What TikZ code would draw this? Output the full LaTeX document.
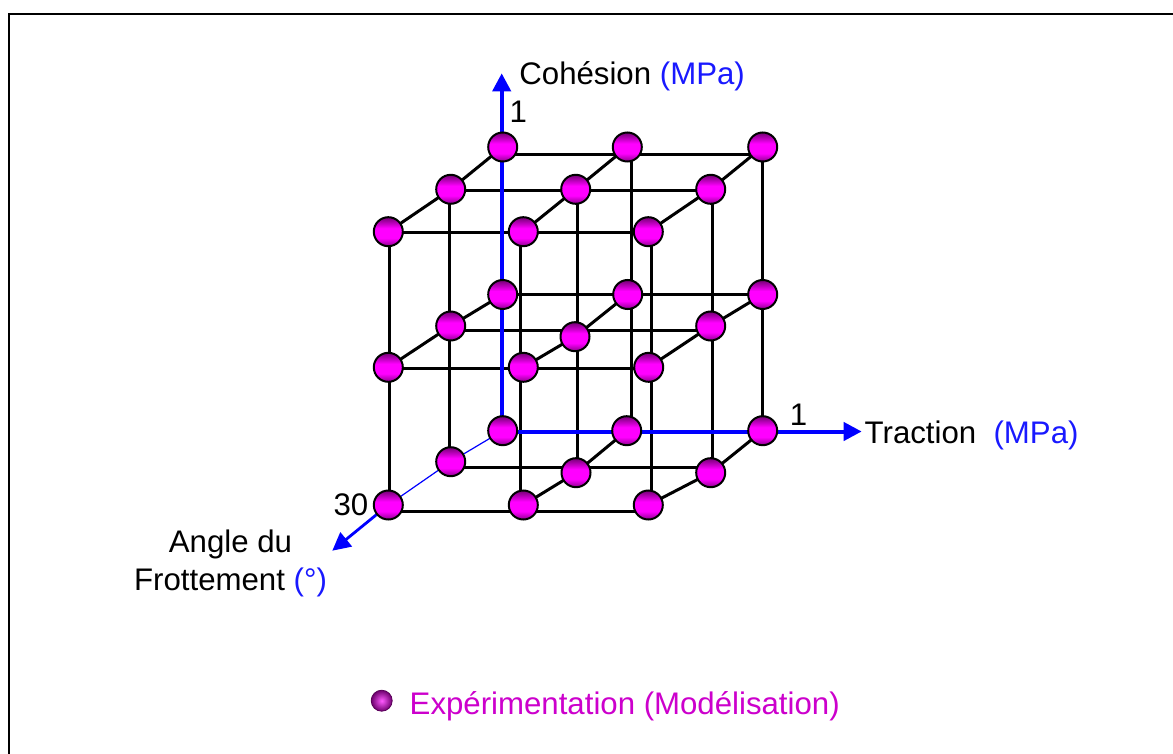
\documentclass[tikz,border=0pt]{standalone}
\usepackage{fontspec}
\setmainfont{Liberation Sans}
\usetikzlibrary{arrows.meta,calc}
\definecolor{balltop}{RGB}{115,0,115}
\definecolor{ballmid}{RGB}{255,0,255}
\definecolor{ballbot}{RGB}{140,0,140}
\definecolor{legmag}{RGB}{204,0,204}
\definecolor{axblue}{RGB}{0,0,255}
\definecolor{txtblue}{RGB}{25,25,255}
\pgfdeclareverticalshading{ballshade}{100bp}{color(0bp)=(ballbot); color(25bp)=(ballbot); color(39bp)=(ballmid); color(56bp)=(ballmid); color(75bp)=(balltop); color(100bp)=(balltop)}
\tikzset{
  grid/.style={draw=black, line width=1.5pt},
  axis/.style={draw=axblue, line width=2pt},
  axmid/.style={draw=axblue, line width=1.4pt},
  axthin/.style={draw=axblue, line width=0.6pt},
  arr/.style={-{Triangle[length=9pt,width=9pt]}},
  ball/.style={circle, minimum size=14.5pt, inner sep=0pt, draw=black, line width=1pt, shading=ballshade},
  legball/.style={circle, minimum size=10.5pt, inner sep=0pt, draw={rgb,255:red,90;green,0;blue,90}, line width=0.4pt, shading=radial, inner color={rgb,255:red,255;green,90;blue,255}, outer color={rgb,255:red,110;green,0;blue,110}},
  lab/.style={font=\fontsize{15.6}{18}\selectfont, inner sep=0pt}
}
\begin{document}
\begin{tikzpicture}[x=0.5pt,y=-0.5pt]
\useasboundingbox (0,0) rectangle (1173,754);
% frame
\draw[line width=0.75pt] (9,760) -- (9,14.2) -- (1180,14.2);
% ball positions
\path
  (502.7,147) coordinate (pb1t) (627.3,147) coordinate (pb2t) (762.7,147) coordinate (pb3t)
  (502.7,294.5) coordinate (pb1c) (627.7,294.5) coordinate (pb2c) (762.7,294.5) coordinate (pb3c)
  (502.7,430.7) coordinate (pb1u) (626.7,430.7) coordinate (pb2u) (762.7,430.7) coordinate (pb3u)
  (450.7,189.3) coordinate (pm1t) (575.7,189.3) coordinate (pm2t) (710.7,189.3) coordinate (pm3t)
  (450.7,326) coordinate (pm1c) (575,336.7) coordinate (pm2c) (710.7,326) coordinate (pm3c)
  (450.7,461.7) coordinate (pm1u) (576,472.7) coordinate (pm2u) (710.7,472.7) coordinate (pm3u)
  (388.3,231.7) coordinate (pf1t) (523.3,231.7) coordinate (pf2t) (648.3,231.7) coordinate (pf3t)
  (388.3,367.3) coordinate (pf1c) (523.3,367.3) coordinate (pf2c) (648.7,367.3) coordinate (pf3c)
  (388.3,505) coordinate (pf1u) (523.3,505) coordinate (pf2u) (648.3,505) coordinate (pf3u);
\foreach \n in {b1t,b2t,b3t,b1c,b2c,b3c,b1u,b2u,b3u,m1t,m2t,m3t,m1c,m2c,m3c,m1u,m2u,m3u,f1t,f2t,f3t,f1c,f2c,f3c,f1u,f2u,f3u}
  \node[circle, minimum size=14.5pt, inner sep=0pt] (\n) at (p\n) {};
% horizontal lines
\draw[grid] (b1t.center |- 0,155) -- (b3t.center |- 0,155);
\draw[grid] (b1c.center |- 0,295) -- (b3c.center |- 0,295);
\draw[grid] (m1t.center |- 0,191) -- (m3t.center |- 0,191);
\draw[grid] (m1c.center |- 0,330.7) -- (m3c.center |- 0,330.7);
\draw[grid] (m1u.center |- 0,467.7) -- (m3u.center |- 0,467.7);
\draw[grid] (f1t.center |- 0,232.7) -- (f3t.center |- 0,232.7);
\draw[grid] (f1c.center |- 0,368.3) -- (f3c.center |- 0,368.3);
\draw[grid] (f1u.center |- 0,511.7) -- (f3u.center |- 0,511.7);
% vertical lines
\draw[grid] (631.7,0 |- b2t.center) -- (631.7,0 |- b2u.center);
\draw[grid] (762.7,0 |- b3t.center) -- (762.7,0 |- b3u.center);
\draw[grid] (449.3,0 |- m1t.center) -- (449.3,0 |- m1u.center);
\draw[grid] (577.3,0 |- m2t.center) -- (577.3,0 |- m2u.center);
\draw[grid] (712.3,0 |- m3t.center) -- (712.3,0 |- m3u.center);
\draw[grid] (389.7,0 |- f1t.center) -- (389.7,0 |- f1u.center);
\draw[grid] (520.7,0 |- f2t.center) -- (520.7,0 |- f2u.center);
\draw[grid] (651.7,0 |- f3t.center) -- (651.7,0 |- f3u.center);
% depth lines
\draw[grid] (f1t.center) -- (m1t.center) -- (b1t.center);
\draw[grid] (f2t.center) -- (m2t.center) -- (b2t.center);
\draw[grid] (f3t.center) -- (m3t.center) -- (b3t.center);
\draw[grid] (f1c.center) -- (m1c.center) -- (b1c.center);
\draw[grid] (f2c.center) -- (m2c.center) -- (b2c.center);
\draw[grid] (f3c.center) -- (m3c.center) -- (b3c.center);
\draw[grid] (f2u.center) -- (m2u.center) -- (b2u.center);
\draw[grid] (f3u.center) -- (m3u.center) -- (b3u.center);
% axes
\coordinate (ctip) at (501.7,73.3);
\coordinate (ttip) at (861.7,431.5);
\coordinate (atip) at (332.3,550.7);
\draw[axis, arr] (501.7,0 |- b1u.center) -- (ctip);
\draw[axis, arr] (b1u.center |- 0,431.5) -- (ttip);
\draw[axthin] (b1u.center) -- (m1u.center) -- (f1u.center);
\draw[axmid, arr] (f1u.center) -- (atip);
% balls
\foreach \n in {b1t,b2t,b3t,b1c,b2c,b3c,b1u,b2u,b3u,m1t,m2t,m3t,m1c,m2c,m3c,m1u,m2u,m3u,f1t,f2t,f3t,f1c,f2c,f3c,f1u,f2u,f3u}
  \node[ball] (s\n) at (\n.center) {};
% labels
\node[lab, anchor=base west] (coh) at (519,85) {Cohésion {\color{txtblue}(MPa)}};
\node[lab, anchor=base] (one1) at (518.3,122.7) {1};
\node[lab, anchor=base west] (trac) at (864.3,443.3) {Traction~~{\color{txtblue}(MPa)}};
\node[lab, anchor=base] (one2) at (798.6,425) {1};
\node[lab, anchor=base] (thirty) at (351,515) {30};
\node[lab, anchor=base] (ang1) at (230.5,552.7) {Angle du};
\node[lab, anchor=base] (ang2) at (230.5,590.7) {Frottement {\color{txtblue}(°)}};
% legend
\node[legball] (lball) at (381.7,700.7) {};
\node[lab, anchor=base west, text=legmag] (leg) at (409.3,714.3) {Expérimentation (Modélisation)};
\end{tikzpicture}
\end{document}
